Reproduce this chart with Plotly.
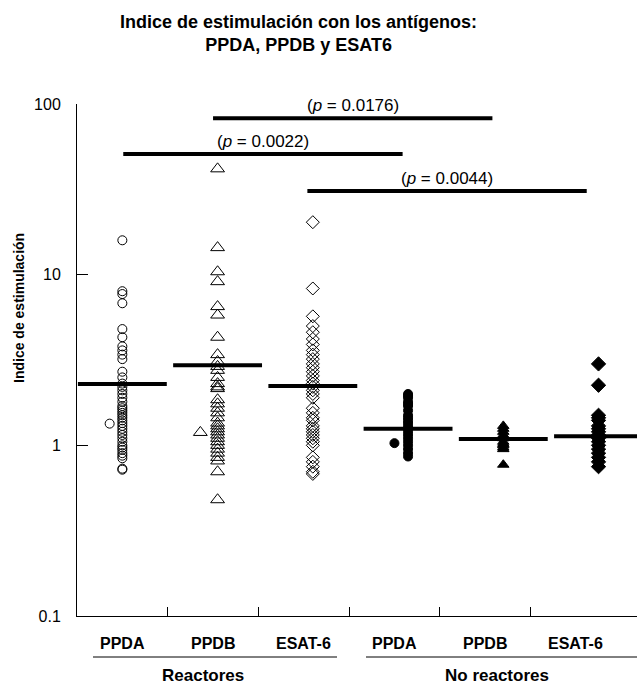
import math
import plotly.graph_objects as go

# ---------------- data ----------------
categories = ["PPDA", "PPDB", "ESAT-6", "PPDA", "PPDB", "ESAT-6"]
groups = ["Reactores", "No reactores"]

r_ppda = [15.9, 8.0, 7.7, 6.8, 4.8, 4.3, 3.8, 3.6, 3.4, 3.2, 2.7, 2.5, 2.3, 2.2, 2.1,
          2.0, 1.9, 1.8, 1.7, 1.65, 1.6, 1.55, 1.5, 1.45, 1.4, 1.35, 1.3, 1.25, 1.2,
          1.15, 1.1, 1.05, 1.0, 0.97, 0.94, 0.9, 0.87, 0.84, 0.73, 0.72]
r_ppda_out = [1.34]
r_ppdb = [41.7, 14.4, 10.4, 9.1, 6.5, 5.8, 4.3, 3.4, 3.1, 2.9, 2.75, 2.5, 2.3, 2.2,
          2.15, 1.85, 1.75, 1.65, 1.55, 1.45, 1.35, 1.3, 1.25, 1.2, 1.15, 1.1, 1.05,
          1.0, 0.95, 0.9, 0.85, 0.81, 0.7, 0.48]
r_ppdb_out = [1.19]
r_esat = [20.3, 8.3, 5.7, 5.0, 4.6, 4.2, 3.9, 3.6, 3.4, 3.2, 3.0, 2.85, 2.7, 2.55,
          2.4, 2.3, 2.2, 2.1, 2.0, 1.9, 1.65, 1.55, 1.45, 1.4, 1.3, 1.25, 1.2, 1.15,
          1.1, 1.05, 1.0, 0.85, 0.8, 0.75, 0.7, 0.68]
n_ppda = [2.0, 1.95, 1.9, 1.8, 1.75, 1.7, 1.6, 1.5, 1.45, 1.4, 1.35, 1.3, 1.25, 1.2,
          1.15, 1.1, 1.05, 1.0, 0.95, 0.9, 0.86]
n_ppda_out = [1.03]
n_ppdb = [1.3, 1.25, 1.2, 1.15, 1.1, 1.05, 1.02, 1.0, 0.97, 0.95, 0.77]
n_esat = [3.0, 2.25, 1.5, 1.45, 1.4, 1.3, 1.25, 1.2, 1.15, 1.1, 1.05, 1.0, 0.95,
          0.9, 0.85, 0.8, 0.75]

means = [2.29, 2.95, 2.23, 1.25, 1.09, 1.13]

# significance bars: (start, end, level, label)
sig_start = [1.50, 0.51, 2.54]
sig_end = [4.58, 3.59, 5.62]
sig_level = [82.4, 50.9, 30.9]
sig_p = ["0.0176", "0.0022", "0.0044"]

y_tickvals = [0.1, 1, 10, 100]
y_ticktext = ["0.1", "1", "10", "100"]

# ---------------- figure ----------------
FONT = "Liberation Sans, Arial, sans-serif"
W, H = 637, 686
ML, MT, MB = 77, 104, 70
PW = W - ML
PH = H - MT - MB
UNIT = 90.7  # px per category
XMAX = PW / UNIT


def mpos(i):
    return 0.5 + 1.05 * i


def px_x(px):
    return (px - ML) / PW


def px_y(py):
    return (MT + PH - py) / PH


series = [
    (r_ppda, "circle-open", 9),
    (r_ppdb, "triangle-up-open", 12),
    (r_esat, "diamond-open", 10),
    (n_ppda, "circle", 9),
    (n_ppdb, "triangle-up", 10),
    (n_esat, "diamond", 11),
]
outliers = {0: (r_ppda_out, -0.14), 1: (r_ppdb_out, -0.19), 3: (n_ppda_out, -0.15)}

fig = go.Figure()
for i, (vals, sym, sz) in enumerate(series):
    fig.add_trace(go.Scatter(
        x=[mpos(i)] * len(vals), y=vals, mode="markers",
        marker=dict(symbol=sym, size=sz, color="black",
                    line=dict(color="black", width=1)),
        showlegend=False, cliponaxis=False))
    if i in outliers:
        ov, off = outliers[i]
        fig.add_trace(go.Scatter(
            x=[mpos(i) + off] * len(ov), y=ov, mode="markers",
            marker=dict(symbol=sym, size=sz, color="black",
                        line=dict(color="black", width=1)),
            showlegend=False))
    # mean line
    fig.add_trace(go.Scatter(
        x=[mpos(i) - 0.49, mpos(i) + 0.49], y=[means[i], means[i]], mode="lines",
        line=dict(color="black", width=4), showlegend=False))

for s, e, lv, p in zip(sig_start, sig_end, sig_level, sig_p):
    fig.add_trace(go.Scatter(x=[s, e], y=[lv, lv], mode="lines",
                             line=dict(color="black", width=4), showlegend=False,
                             cliponaxis=False))
    fig.add_annotation(x=(s + e) / 2, y=math.log10(lv), xref="x", yref="y",
                       xanchor="center", yanchor="middle",
                       text=f"(<i>p</i> = {p})", showarrow=False, yshift=13,
                       font=dict(family=FONT, size=17, color="black"))

# category labels
for i, c in enumerate(categories):
    fig.add_annotation(x=(0.5 + i) / XMAX, y=px_y(643), xref="paper", yref="paper",
                       text=f"<b>{c}</b>", showarrow=False,
                       xanchor="center", yanchor="middle",
                       font=dict(family=FONT, size=16, color="black"))
# group underlines and labels
group_lines = [(93, 337), (366, 640)]
group_centers = [203, 497]
for (a, b), cx, g in zip(group_lines, group_centers, groups):
    fig.add_shape(type="line", xref="paper", yref="paper",
                  x0=px_x(a), x1=px_x(b), y0=px_y(657), y1=px_y(657),
                  line=dict(color="black", width=1))
    fig.add_annotation(x=px_x(cx), y=px_y(675), xref="paper", yref="paper",
                       text=f"<b>{g}</b>", showarrow=False,
                       xanchor="center", yanchor="middle",
                       font=dict(family=FONT, size=17, color="black"))

# y axis title
fig.add_annotation(x=px_x(19), y=px_y(308), xref="paper", yref="paper",
                   text="<b>Indice de estimulación</b>", textangle=-90,
                   xanchor="center", yanchor="middle",
                   showarrow=False, font=dict(family=FONT, size=14, color="black"))

# chart title
fig.add_annotation(x=px_x(298), y=px_y(33), xref="paper", yref="paper",
                   text="<b>Indice de estimulación con los antígenos:<br>PPDA, PPDB y ESAT6</b>",
                   xanchor="center", yanchor="middle", showarrow=False,
                   font=dict(family=FONT, size=18, color="black"))

fig.update_layout(
    width=W, height=H,
    margin=dict(l=ML, r=0, t=MT, b=MB),
    paper_bgcolor="white", plot_bgcolor="white",
    font=dict(family=FONT, color="black"),
    xaxis=dict(range=[0, XMAX], showgrid=False, zeroline=False,
               showline=True, linecolor="black", linewidth=1,
               tickvals=[1, 2, 3, 4, 5], ticktext=["", "", "", "", ""],
               ticks="inside", ticklen=9, tickcolor="black", fixedrange=True),
    yaxis=dict(type="log", range=[-1, 2], showgrid=False, zeroline=False,
               showline=True, linecolor="black", linewidth=1,
               tickvals=y_tickvals, ticktext=y_ticktext,
               ticks="inside", ticklen=11, tickcolor="black",
               ticklabelstandoff=12,
               tickfont=dict(family=FONT, size=16, color="black")),
)

fig.write_html("out.html")
